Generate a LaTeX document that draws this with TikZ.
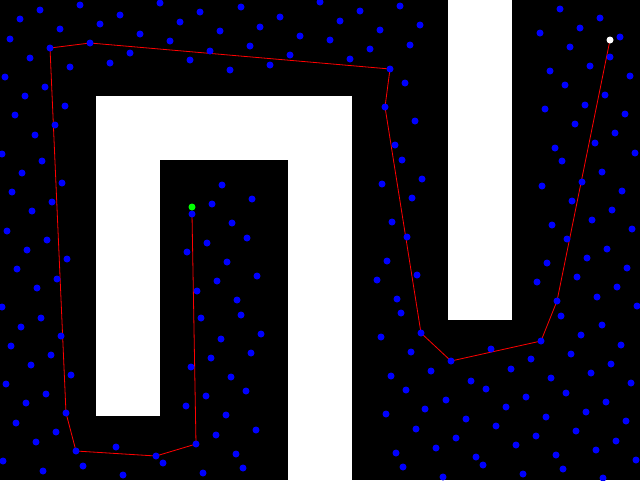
\documentclass[tikz,border=0pt]{standalone}
\begin{document}
\begin{tikzpicture}[x=1pt,y=-1pt,
  sample/.style={circle,fill=blue,inner sep=0pt,minimum size=7pt},
  wall/.style={fill=white},
  route/.style={draw=red,line width=0.8pt,line join=round}]
\fill[black] (0,0) rectangle (640,480);
\useasboundingbox (0,0) rectangle (640,480);
% obstacles
\fill[wall] (96,96) rectangle (352,160);
\fill[wall] (96,96) rectangle (160,416);
\fill[wall] (288,96) rectangle (352,480);
\fill[wall] (448,0) rectangle (512,320);
% route coordinates
\coordinate (p1) at (192,214);
\coordinate (p2) at (196,444);
\coordinate (p3) at (156,456);
\coordinate (p4) at (76,451);
\coordinate (p5) at (66,413);
\coordinate (p6) at (50,48);
\coordinate (p7) at (90,43);
\coordinate (p8) at (390,69);
\coordinate (p9) at (385,107);
\coordinate (p10) at (421,333);
\coordinate (p11) at (451,361);
\coordinate (p12) at (541,341);
\coordinate (p13) at (557,301);
\coordinate (p14) at (610,40);
\draw[route] (p1)--(p2)--(p3)--(p4)--(p5)--(p6)--(p7)--(p8)--(p9)--(p10)--(p11)--(p12)--(p13)--(p14);
% samples
\foreach \x/\y in {
40/10,80/5,160/3,20/19,120/15,200/12,60/29,100/24,180/22,10/39,140/34,170/41,50/48,90/43,210/51,30/58,130/53,190/60,70/67,110/63,5/77,45/87,25/96,65/106,15/115,55/125,35/135,2/154,42/161,
241/7,320/2,400/6,280/17,360/11,220/31,260/27,340/21,420/25,300/36,380/30,250/46,330/40,410/45,290/55,370/49,230/70,270/65,350/59,390/69,405/83,385/107,415/121,395/145,402/160,
560/9,600/18,580/28,540/33,620/37,570/47,610/57,590/66,550/71,630/76,565/85,605/95,545/109,585/105,625/114,575/124,615/133,555/148,595/143,635/153,562/161,
22/173,62/183,12/192,52/202,32/211,7/231,47/240,27/250,67/259,17/269,57/279,37/288,2/307,41/318,192/214,212/204,207/243,187/252,197/291,201/318,
222/185,252/199,232/223,247/238,227/262,257/276,217/281,237/300,241/315,422/179,382/184,412/198,392/222,407/237,387/261,377/280,417/275,397/299,401/313,
602/172,582/182,542/186,622/191,572/201,612/210,592/220,552/225,632/229,567/239,607/249,587/258,547/263,627/268,577/277,537/282,617/287,597/297,557/301,637/306,561/316,
21/327,61/336,11/346,51/355,31/365,71/375,6/384,46/394,26/403,66/413,16/423,56/432,36/442,76/451,3/461,83/466,43/471,123/475,116/447,156/456,163/463,203/473,196/444,186/406,206/396,191/367,211/358,
221/339,261/334,251/353,231/377,246/391,226/415,256/430,216/435,236/454,243/468,421/333,381/337,411/352,391/376,406/390,425/409,386/414,416/429,396/453,403/467,
602/325,581/335,541/341,621/345,491/349,571/354,451/361,531/359,611/364,431/371,511/369,591/373,471/381,551/378,631/383,486/389,566/393,446/400,526/397,606/402,506/407,586/412,466/419,546/417,626/421,496/426,576/431,456/438,536/436,616/441,436/448,516/445,596/450,476/457,556/455,483/465,636/460,563/469,443/477,523/474,603/478}
  \node[sample] at (\x,\y) {};
% start and goal
\node[circle,fill={rgb,255:red,0;green,255;blue,0},inner sep=0pt,minimum size=7pt] (start) at (192,207) {};
\node[circle,fill=white,inner sep=0pt,minimum size=7pt] (goal) at (610,40) {};
\end{tikzpicture}
\end{document}
